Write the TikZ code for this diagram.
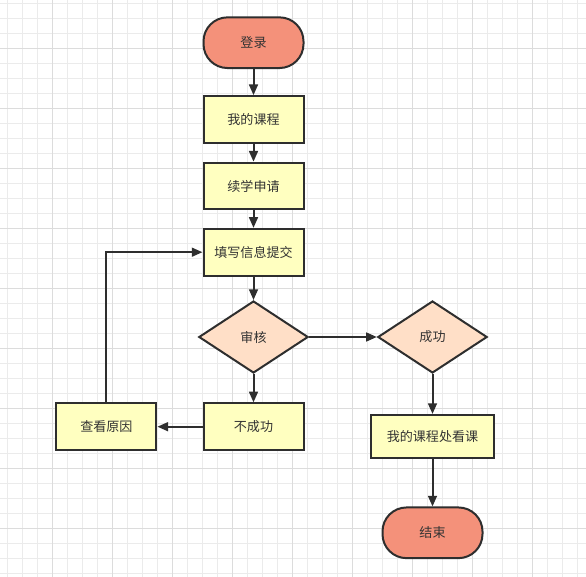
\documentclass[tikz,border=0pt]{standalone}
\usepackage{fontspec}
\setmainfont{Noto Sans CJK SC}
\usetikzlibrary{shapes.geometric,arrows.meta}
\definecolor{gridminor}{HTML}{EBEBEB}
\definecolor{gridmajor}{HTML}{DCDCDC}
\definecolor{termfill}{HTML}{F4917A}
\definecolor{boxfill}{HTML}{FFFFC0}
\definecolor{diafill}{HTML}{FFDFC7}
\definecolor{strokec}{HTML}{2E2E2E}
\definecolor{textc}{HTML}{333333}
\tikzset{
  base/.style={draw=strokec, line width=1.5pt, text=textc, inner sep=0pt, font=\fontsize{9.8pt}{11pt}\selectfont},
  term/.style={base, fill=termfill, rounded corners=18pt, minimum width=75pt, minimum height=38pt},
  stepbox/.style={base, fill=boxfill, minimum width=75pt, minimum height=35pt},
  decide/.style={base, diamond, fill=diafill, minimum width=82pt, minimum height=54pt},
  conn/.style={draw=strokec, line width=1.5pt, -{Triangle[length=8pt,width=6.6pt]}}
}
\begin{document}
\begin{tikzpicture}[x=0.75pt,y=-0.75pt]
\useasboundingbox (0,0) rectangle (586,577);
\fill[white] (0,0) rectangle (586,577);
\foreach \i in {0,...,39} {
  \draw[gridminor, line width=0.75pt] ({7.3+15*\i},0) -- ({7.3+15*\i},577);
  \draw[gridminor, line width=0.75pt] (0,{3.3+15*\i}) -- (586,{3.3+15*\i});
}
\foreach \i in {0,...,9} {
  \draw[gridmajor, line width=0.75pt] ({52.3+60*\i},0) -- ({52.3+60*\i},577);
  \draw[gridmajor, line width=0.75pt] (0,{48.3+60*\i}) -- (586,{48.3+60*\i});
}
\node[term] (login) at (253.5,42.7) {登录};
\node[stepbox] (course) at (253.5,119.5) {我的课程};
\node[stepbox] (apply) at (253.5,186) {续学申请};
\node[stepbox] (fill) at (253.5,252.2) {填写信息提交};
\node[decide] (review) at (253.5,337) {审核};
\node[decide] (ok) at (432.5,337) {成功};
\node[stepbox] (fail) at (253.5,426.7) {不成功};
\node[stepbox] (reason) at (106.4,426.7) {查看原因};
\node[stepbox, minimum width=92pt, minimum height=32pt] (watch) at (432.5,436.3) {我的课程处看课};
\node[term] (endn) at (432.5,532.8) {结束};
\draw[conn] (login) -- (course);
\draw[conn] (course) -- (apply);
\draw[conn] (apply) -- (fill);
\draw[conn] (fill) -- (review);
\draw[conn] (review) -- (ok);
\draw[conn] (review) -- (fail);
\draw[conn] (fail) -- (reason);
\draw[conn] (reason.north) |- (fill.west);
\draw[conn] (ok) -- (watch);
\draw[conn] (watch) -- (endn);
\end{tikzpicture}
\end{document}
